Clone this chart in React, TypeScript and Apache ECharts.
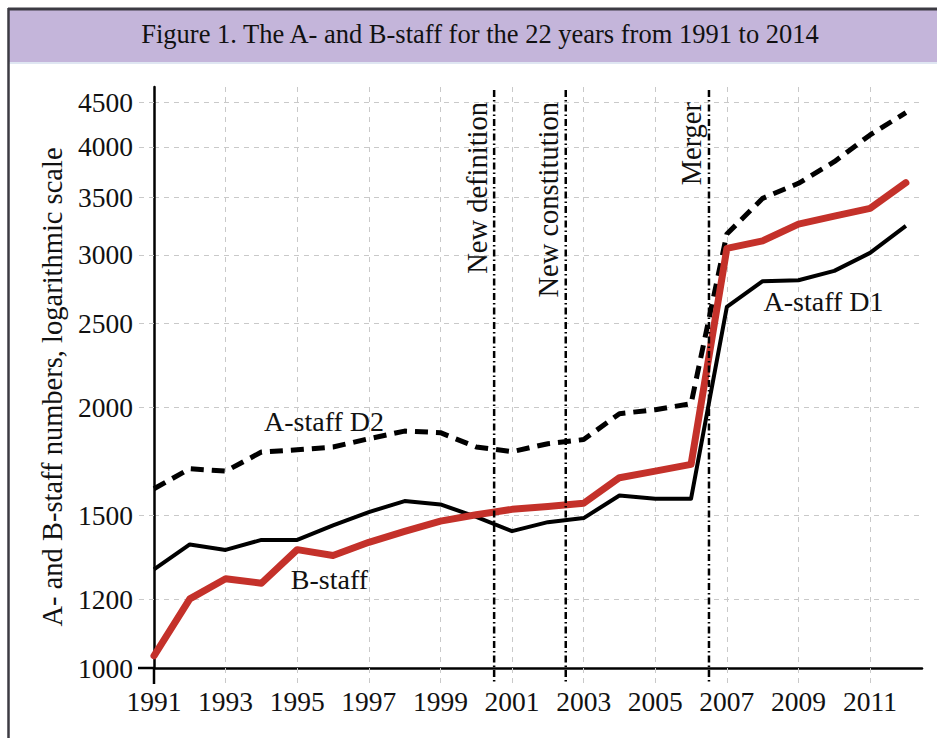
import React, { useEffect, useRef } from 'react';
import * as echarts from 'echarts';

// ---------- data ----------
const years = [1991, 1992, 1993, 1994, 1995, 1996, 1997, 1998, 1999, 2000, 2001, 2002, 2003, 2004, 2005, 2006, 2007, 2008, 2009, 2010, 2011, 2012];
const aStaffD2 = [1611, 1699, 1688, 1776, 1787, 1800, 1840, 1878, 1870, 1800, 1778, 1816, 1836, 1967, 1988, 2020, 3172, 3488, 3630, 3845, 4129, 4382];
const aStaffD1 = [1300, 1389, 1369, 1406, 1406, 1461, 1514, 1559, 1545, 1495, 1439, 1474, 1490, 1582, 1569, 1569, 2613, 2798, 2805, 2876, 3017, 3242];
const bStaff = [1033, 1202, 1268, 1253, 1370, 1349, 1397, 1438, 1478, 1503, 1525, 1537, 1550, 1659, 1688, 1719, 3053, 3115, 3257, 3327, 3396, 3636];

const xTickYears = [1991, 1993, 1995, 1997, 1999, 2001, 2003, 2005, 2007, 2009, 2011];
const yTickValues = [1000, 1200, 1500, 2000, 2500, 3000, 3500, 4000, 4500];

const eventYears = [2000.5, 2002.5, 2006.5];
const eventLabels = ['New definition', 'New constitution', 'Merger'];

const seriesLabels = ['A-staff D2', 'A-staff D1', 'B-staff'];
const seriesLabelAnchors = [
  [1995.75, 1924],
  [2009.7, 2648],
  [1995.9, 1264],
];

const titleText = 'Figure 1. The A- and B-staff for the 22 years from 1991 to 2014';
const yAxisTitle = 'A- and B-staff numbers, logarithmic scale';

// ---------- layout / style ----------
const X_MIN = 1991;
const X_MAX = 2012.45;
const Y_MIN = 1000;
const Y_MAX = 4690;
const GRID_LEFT = 154;
const GRID_RIGHT = 15;
const GRID_TOP = 87;
const GRID_BOTTOM = 70;
const W = 937;
const H = 738;
const FONT = '"Liberation Serif", "Times New Roman", serif';
const GRID_COLOR = '#c9c9c9';
const RED = '#c4312a';

export default function App() {
  const ref = useRef<HTMLDivElement>(null);

  useEffect(() => {
    if (!ref.current) return;
    const chart = echarts.init(ref.current, null, { renderer: 'svg' });
    const axisY = H - GRID_BOTTOM;

    const option: any = {
      animation: false,
      backgroundColor: '#ffffff',
      title: {
        text: titleText,
        left: 475,
        top: 15,
        textAlign: 'center',
        textStyle: { fontFamily: FONT, fontSize: 26.5, fontWeight: 'normal', color: '#111' },
      },
      grid: {
        left: GRID_LEFT,
        right: GRID_RIGHT,
        top: GRID_TOP,
        bottom: GRID_BOTTOM,
        containLabel: false,
        outerBoundsMode: 'none',
      },
      xAxis: {
        type: 'value',
        min: X_MIN,
        max: X_MAX,
        axisLine: { show: true, lineStyle: { color: '#000', width: 2.5 } },
        axisTick: {
          show: true,
          inside: false,
          length: 16,
          customValues: xTickYears,
          lineStyle: { color: GRID_COLOR, width: 1, type: [5, 5] },
        },
        axisLabel: {
          customValues: xTickYears,
          formatter: (v: number) => String(v),
          fontFamily: FONT,
          fontSize: 27.5,
          color: '#111',
          margin: 19,
        },
        splitLine: { show: true, lineStyle: { color: GRID_COLOR, width: 1, type: [5, 5] } },
      },
      yAxis: {
        type: 'log',
        logBase: 10,
        min: Y_MIN,
        max: Y_MAX,
        name: yAxisTitle,
        nameLocation: 'middle',
        nameGap: 87,
        nameRotate: 90,
        nameTextStyle: { fontFamily: FONT, fontSize: 28.5, color: '#111', padding: [0, 19, 0, 0] },
        axisLine: { show: true, lineStyle: { color: '#000', width: 2.5 } },
        axisTick: {
          show: true,
          inside: false,
          length: 16,
          customValues: yTickValues,
          lineStyle: { color: GRID_COLOR, width: 1, type: [5, 5] },
        },
        axisLabel: {
          customValues: yTickValues,
          formatter: (v: number) => String(Math.round(v)),
          fontFamily: FONT,
          fontSize: 27.5,
          color: '#111',
          margin: 21,
        },
        splitLine: { show: true, lineStyle: { color: GRID_COLOR, width: 1, type: [5, 5] } },
      },
      graphic: [
        { type: 'rect', z: -10, shape: { x: 9, y: 9, width: W - 9, height: 53 }, style: { fill: '#c4b5da' } },
        { type: 'rect', z: -10, shape: { x: 9, y: 62, width: W - 9, height: 2 }, style: { fill: '#dfe6f2' } },
        { type: 'line', z: -9, shape: { x1: 8, y1: 9, x2: W, y2: 9 }, style: { stroke: '#3c3b43', lineWidth: 3 } },
        { type: 'line', z: -9, shape: { x1: 8.5, y1: 8, x2: 8.5, y2: H }, style: { stroke: '#3c3b43', lineWidth: 2.5 } },
        { type: 'line', z: 10, shape: { x1: GRID_LEFT - 16, y1: axisY, x2: GRID_LEFT, y2: axisY }, style: { stroke: '#000', lineWidth: 2.5 } },
        { type: 'line', z: 10, shape: { x1: GRID_LEFT, y1: axisY, x2: GRID_LEFT, y2: axisY + 16 }, style: { stroke: '#000', lineWidth: 2.5 } },
      ],
      series: [
        {
          name: 'A-staff D2',
          type: 'line',
          data: years.map((y, i) => [y, aStaffD2[i]]),
          symbol: 'none',
          clip: false,
          lineStyle: { color: '#000', width: 5, type: [13, 8], cap: 'butt', join: 'round' },
          z: 3,
        },
        {
          name: 'A-staff D1',
          type: 'line',
          data: years.map((y, i) => [y, aStaffD1[i]]),
          symbol: 'none',
          clip: false,
          lineStyle: { color: '#000', width: 4, join: 'round' },
          z: 4,
        },
        {
          name: 'B-staff',
          type: 'line',
          data: years.map((y, i) => [y, bStaff[i]]),
          symbol: 'none',
          clip: false,
          lineStyle: { color: RED, width: 7, cap: 'round', join: 'round' },
          z: 5,
        },
        {
          name: 'events',
          type: 'custom',
          clip: false,
          silent: true,
          z: 6,
          data: eventYears.map((y) => [y, Y_MIN]),
          encode: { x: 0, y: 1 },
          renderItem: (params: any, api: any) => {
            const x = api.value(0);
            const top = api.coord([x, Y_MAX]);
            const bot = api.coord([x, Y_MIN]);
            return {
              type: 'group',
              children: [
                {
                  type: 'line',
                  shape: { x1: top[0], y1: top[1] + 3, x2: bot[0], y2: bot[1] + 16 },
                  style: { stroke: '#000', lineWidth: 2.5, lineDash: [7, 3, 1.5, 3] },
                },
                {
                  type: 'text',
                  x: top[0] - 17,
                  y: top[1] + 15,
                  rotation: Math.PI / 2,
                  style: {
                    text: eventLabels[params.dataIndex],
                    align: 'right',
                    verticalAlign: 'middle',
                    fontFamily: FONT,
                    fontSize: 28.5,
                    fill: '#111',
                  },
                },
              ],
            };
          },
        },
        {
          name: 'labels',
          type: 'custom',
          clip: false,
          silent: true,
          z: 7,
          data: seriesLabelAnchors,
          encode: { x: 0, y: 1 },
          renderItem: (params: any, api: any) => {
            const p = api.coord([api.value(0), api.value(1)]);
            return {
              type: 'text',
              x: p[0],
              y: p[1],
              style: {
                text: seriesLabels[params.dataIndex],
                align: 'center',
                verticalAlign: 'middle',
                fontFamily: FONT,
                fontSize: 28,
                fill: '#111',
              },
            };
          },
        },
      ],
    };

    chart.setOption(option);
    return () => chart.dispose();
  }, []);

  return (
    <div
      ref={ref}
      style={{ position: 'absolute', left: 0, top: 0, width: W, height: H, background: '#fff' }}
    />
  );
}
